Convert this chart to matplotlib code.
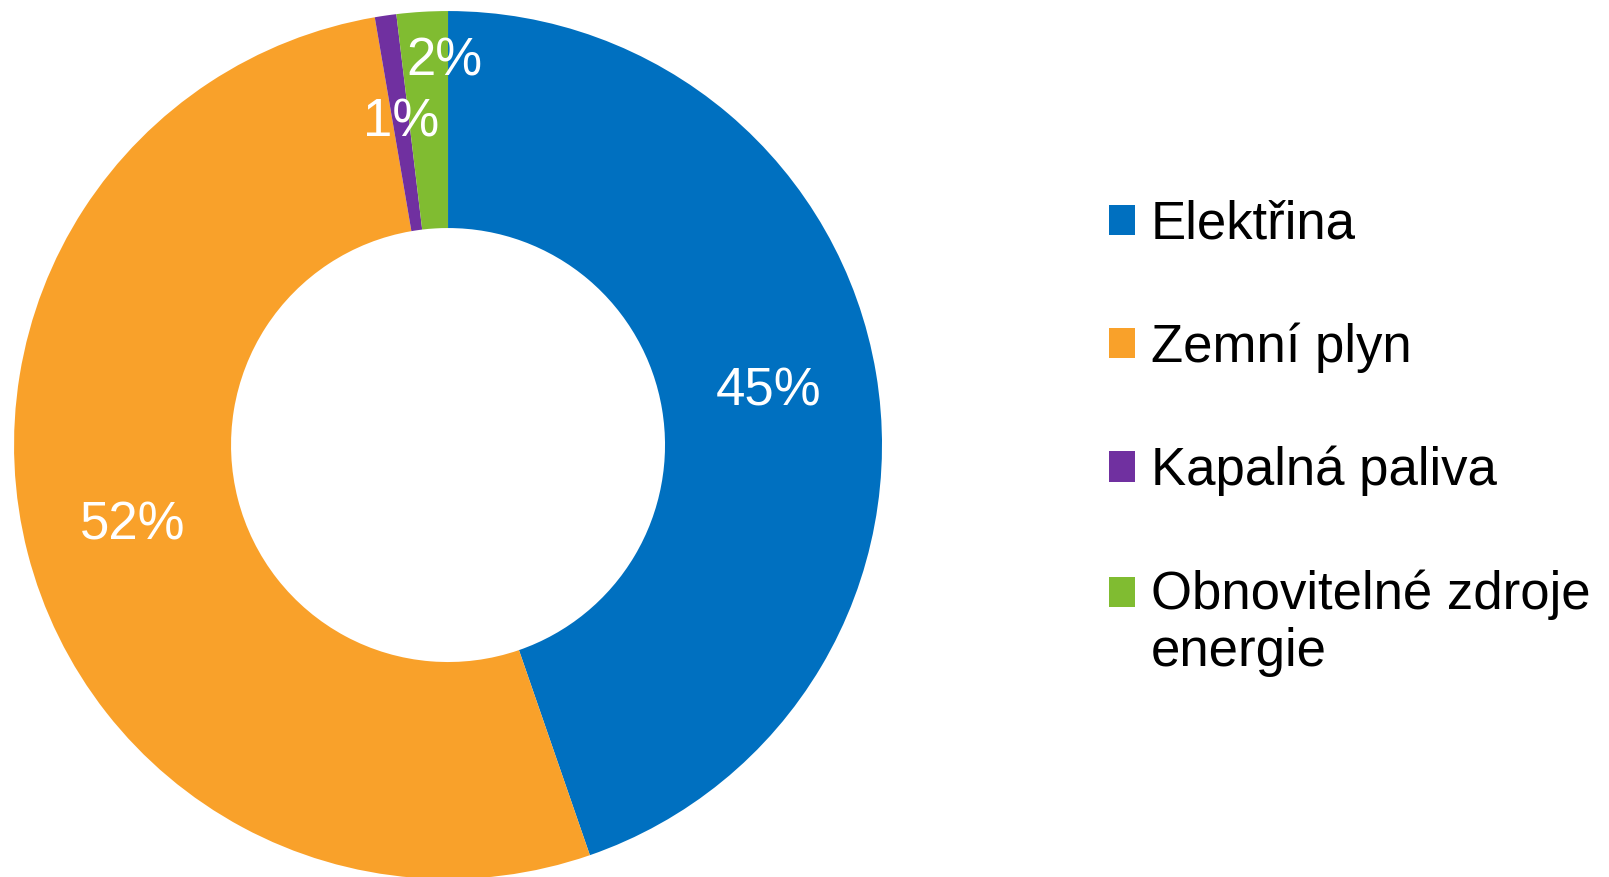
import numpy as np
import matplotlib.pyplot as plt

plt.rcParams['font.family'] = ['Liberation Sans', 'DejaVu Sans']

categories = ['Elektřina', 'Zemní plyn', 'Kapalná paliva', 'Obnovitelné zdroje\nenergie']
shares = [44.7, 52.6, 0.8, 1.9]
pct_labels = ['45%', '52%', '1%', '2%']
colors = ['#0070C0', '#F9A12A', '#7030A0', '#80BC31']

fig = plt.figure(figsize=(16.09, 8.77), dpi=100)
ax = fig.add_axes([0.0087, -0.0023, 0.5395, 0.9897])

wedges, texts = ax.pie(shares, colors=colors, startangle=90, counterclock=False,
                       radius=1.0, labels=pct_labels, labeldistance=0.75,
                       wedgeprops=dict(width=0.5, linewidth=0),
                       textprops=dict(color='white', fontsize=38, ha='center', va='center'))

# nudge the small green label outward like the original
x, y = texts[3].get_position()
texts[3].set_position((x * 1.18 + 0.045, y * 1.18))

ax.set_xlim(-1, 1)
ax.set_ylim(-1, 1)
ax.set_aspect('equal')
ax.axis('off')

leg = fig.legend(wedges, categories, loc='center left', bbox_to_anchor=(0.689, 0.5),
                 frameon=False, fontsize=38, handlelength=0.5, handleheight=0.5,
                 handletextpad=0.3, labelspacing=1.38, borderpad=0, borderaxespad=0)

# put the last marker next to the first line of its two-line label
h = leg.legend_handles[3]
h.set_y(h.get_y() + 0.6 * 38)

fig.savefig('out.png', dpi=100)
